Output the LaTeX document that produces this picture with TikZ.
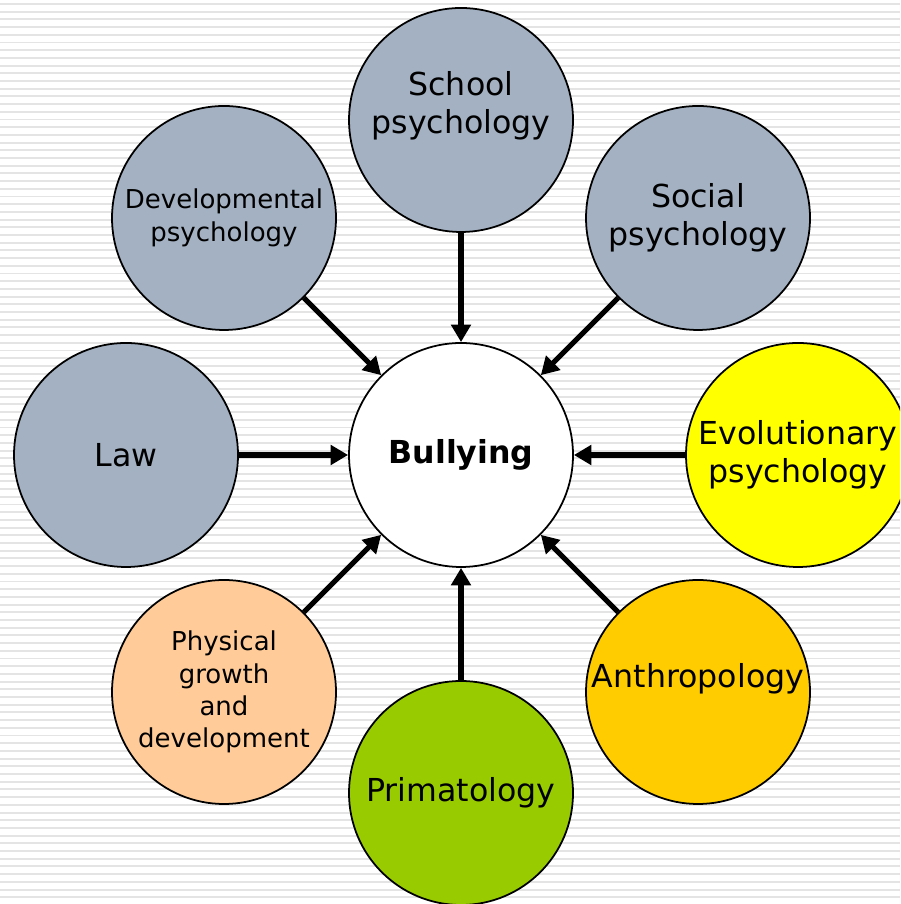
\documentclass[tikz,border=0pt]{standalone}
\usepackage{fontspec}
\setmainfont{DejaVu Sans}
\usetikzlibrary{arrows.meta}

\definecolor{bluegray}{RGB}{163,177,194}
\definecolor{evoyellow}{RGB}{255,255,0}
\definecolor{anthro}{RGB}{255,204,0}
\definecolor{primgreen}{RGB}{153,204,0}
\definecolor{peach}{RGB}{255,204,153}
\definecolor{stripegray}{RGB}{228,228,228}

\tikzset{
  field/.style={circle, draw=black, line width=1pt, minimum size=4.48cm, inner sep=0pt,
    align=center, font=\fontsize{18}{21.6}\selectfont, fill=bluegray},
  smallfield/.style={field, font=\fontsize{14.8}{18.4}\selectfont},
  feed/.style={line width=2.9pt, -{Triangle[length=10pt,width=11pt]}}
}

\begin{document}
\begin{tikzpicture}

	\useasboundingbox (0,0) rectangle (18,18.08);
	\clip (0,0) rectangle (18,18.08);

	% striped backdrop
	\fill[white] (0,0) rectangle (18,18.08);
	\foreach \k in {0,...,116}
	  \draw[stripegray, line width=1.1pt] (0,18-0.154*\k) -- (18,18-0.154*\k);

	% the topic in the middle
	\node[field, fill=white, font=\fontsize{18}{21.6}\selectfont\bfseries] (bully) at (9.22,8.98) {Bullying};

	% the disciplines around it
	\node[field, label={[yshift=0.28cm, align=center, font=\fontsize{18}{21.6}\selectfont]center:School\\psychology}] (school) at (9.22,15.68) {};
	\node[field] (social) at (13.96,13.72) {Social\\psychology};
	\node[smallfield] (devel) at (4.48,13.72) {Developmental\\psychology};
	\node[field] (law) at (2.52,8.98) {Law};
	\node[field, fill=evoyellow] (evol) at (15.96,8.98) {Evolutionary\\psychology};
	\node[smallfield, fill=peach] (phys) at (4.48,4.24) {Physical\\growth\\and\\development};
	\node[field, fill=primgreen] (prim) at (9.22,2.22) {Primatology};
	\node[field, fill=anthro, label={[yshift=0.26cm, font=\fontsize{18}{21.6}\selectfont]center:Anthropology}] (anth) at (13.96,4.24) {};

	% arrows into the middle
	\draw[feed] (school) -- (bully);
	\draw[feed] (social) -- (bully);
	\draw[feed] (devel) -- (bully);
	\draw[feed] (law) -- (bully);
	\draw[feed] (evol) -- (bully);
	\draw[feed] (phys) -- (bully);
	\draw[feed] (prim) -- (bully);
	\draw[feed] (anth) -- (bully);

\end{tikzpicture}
\end{document}
